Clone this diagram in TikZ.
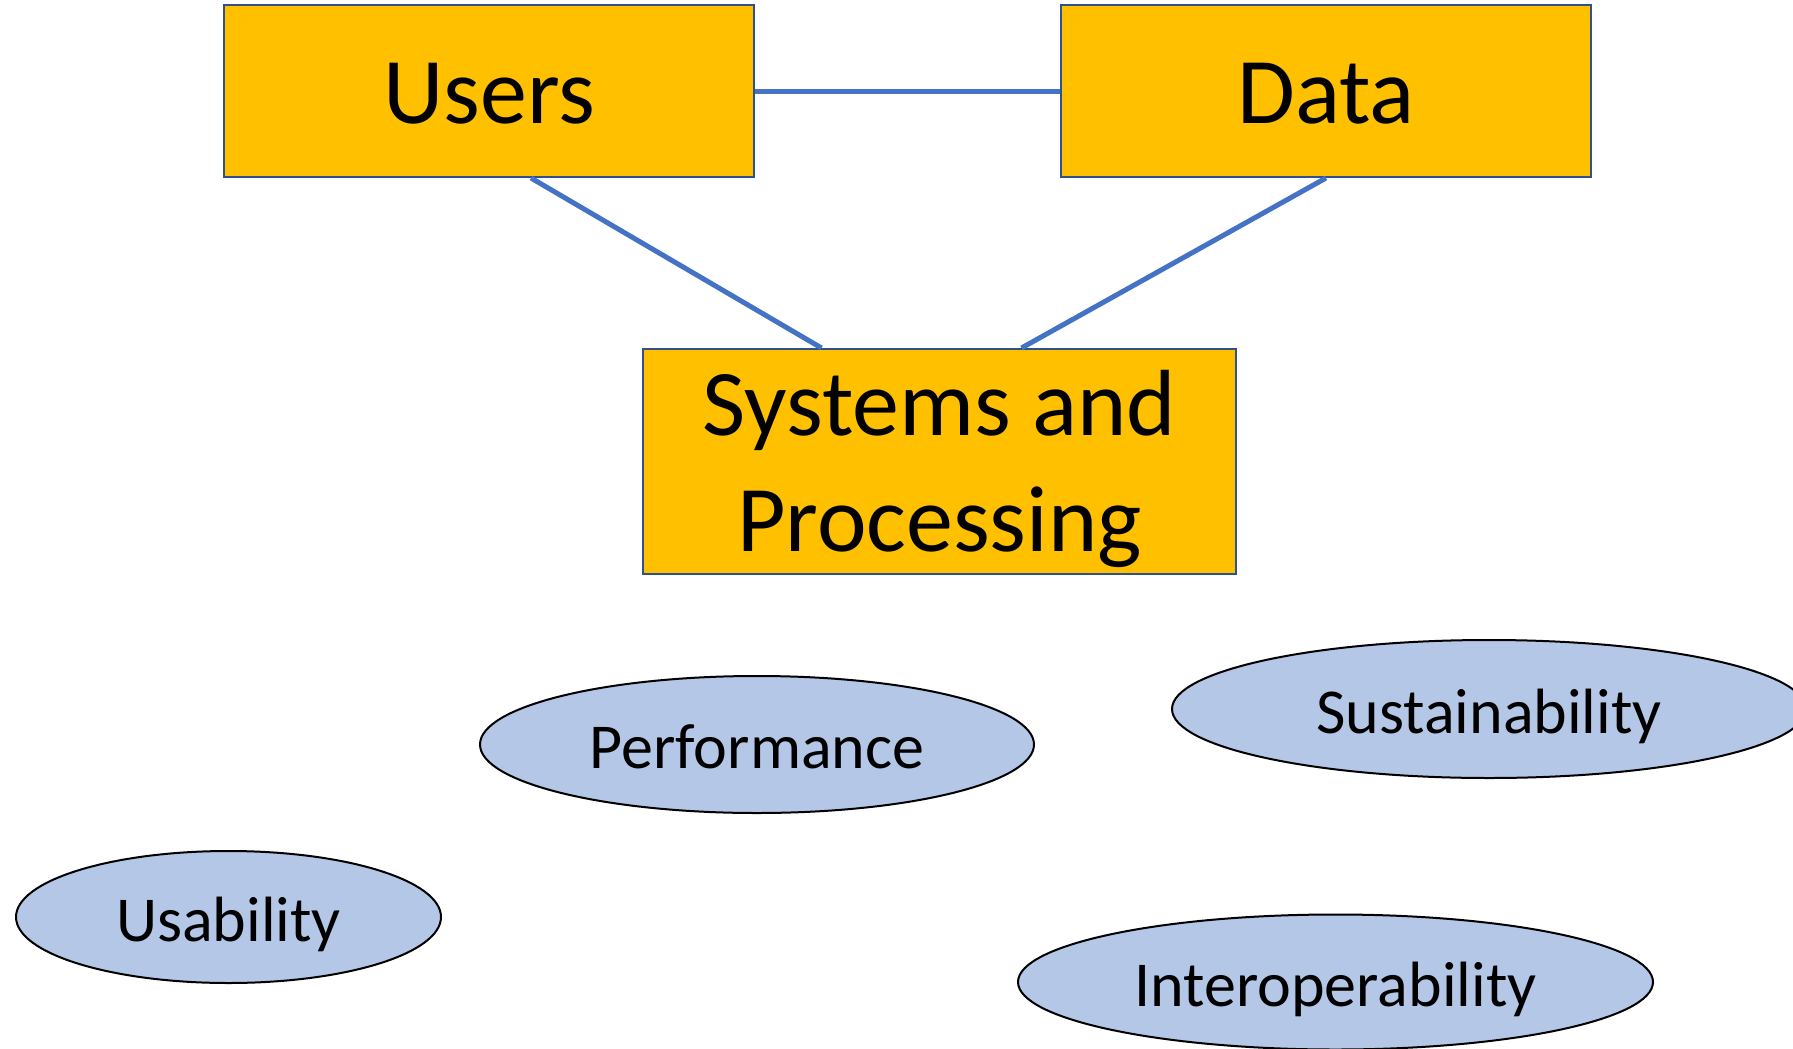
\documentclass[tikz,border=0pt]{standalone}
\usepackage{fontspec}
\setmainfont{Carlito}
\usetikzlibrary{shapes.geometric}
\definecolor{boxgold}{HTML}{FFC000}
\definecolor{boxedge}{HTML}{2F528F}
\definecolor{linkblue}{HTML}{4472C4}
\definecolor{ellfill}{HTML}{B4C7E7}
\tikzset{
  bigbox/.style={draw=boxedge, line width=2pt, fill=boxgold, inner sep=0pt, align=center,
    font=\fontsize{94}{115.5}\selectfont},
  onebox/.style={bigbox, text height=70pt, text depth=5pt},
  oval/.style={ellipse, draw=black, line width=2pt, fill=ellfill, inner sep=0pt,
    font=\fontsize{64}{77}\selectfont, text height=54pt, text depth=6pt},
  link/.style={draw=linkblue, line width=5pt}
}
\begin{document}
\begin{tikzpicture}[x=1pt,y=-1pt]
\useasboundingbox (0,0) rectangle (1793,1049);
\clip (0,0) rectangle (1793,1049);
\node[onebox, minimum width=530pt, minimum height=172pt] (users) at (489,91) {Users};
\node[onebox, minimum width=530pt, minimum height=172pt] (data) at (1326,91) {Data};
\node[bigbox, minimum width=593pt, minimum height=225pt, text height=184.4pt, text depth=5pt] (sys) at (939.5,461.5) {Systems and\\Processing};
\coordinate (usbot) at ([xshift=42pt]users.south);
\coordinate (systopl) at ([xshift=-118pt]sys.north);
\coordinate (systopr) at ([xshift=82pt]sys.north);
\draw[link] (users.east) -- (data.west);
\draw[link] (usbot) -- (systopl);
\draw[link] (data.south) -- (systopr);
\node[oval, minimum width=554pt, minimum height=137pt] (perf) at (757,744.5) {Performance};
\node[oval, minimum width=634pt, minimum height=138pt] (sust) at (1489,709) {Sustainability};
\node[oval, minimum width=425pt, minimum height=132pt] (usab) at (228.5,917) {Usability};
\node[oval, minimum width=635pt, minimum height=135pt] (inter) at (1335.5,982) {Interoperability};
\end{tikzpicture}
\end{document}
